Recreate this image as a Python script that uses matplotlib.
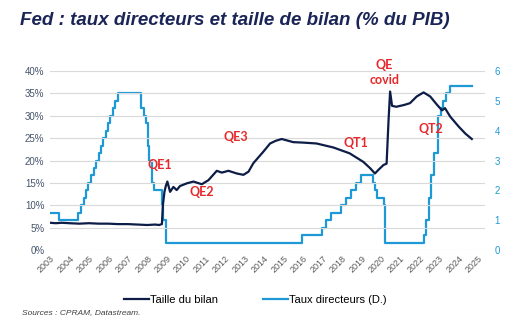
import numpy as np
import matplotlib.pyplot as plt
from matplotlib.ticker import FuncFormatter

# Taille du bilan de la Fed (% du PIB)
bilan_dates = [2003.0, 2003.3, 2003.6, 2004.0, 2004.5, 2005.0, 2005.5, 2006.0, 2006.5,
               2007.0, 2007.5, 2008.0, 2008.4, 2008.6, 2008.75, 2008.8, 2008.88, 2008.95,
               2009.03, 2009.17, 2009.34, 2009.51, 2009.68, 2010.03, 2010.37, 2010.8,
               2011.14, 2011.57, 2011.83, 2012.17, 2012.6, 2012.94, 2013.2, 2013.45,
               2013.97, 2014.31, 2014.6, 2014.91, 2015.5, 2016.0, 2016.7, 2017.57,
               2018.4, 2019.1, 2019.45, 2019.7, 2019.9, 2020.14, 2020.3, 2020.4,
               2020.48, 2020.58, 2020.8, 2021.2, 2021.5, 2021.85, 2022.2, 2022.54,
               2022.9, 2023.15, 2023.3, 2023.57, 2024.0, 2024.35, 2024.68]
bilan_vals = [6.1, 6.0, 6.1, 6.0, 5.9, 6.0, 5.9, 5.9, 5.8,
              5.8, 5.7, 5.6, 5.7, 5.6, 5.8, 10.0, 13.0, 14.3,
              15.3, 13.0, 14.1, 13.4, 14.3, 14.9, 15.3, 14.7,
              15.6, 17.7, 17.3, 17.7, 17.1, 16.8, 17.5, 19.4,
              22.0, 23.8, 24.4, 24.8, 24.1, 24.0, 23.8, 22.9,
              21.6, 19.7, 18.3, 17.1, 18.0, 19.0, 19.3, 29.0,
              35.4, 32.2, 32.0, 32.4, 32.8, 34.3, 35.2, 34.3,
              32.4, 31.2, 31.7, 29.8, 27.6, 26.0, 24.8]

# Taux directeur de la Fed (%), date de chaque changement
taux_dates = [2003.0, 2003.48, 2004.46, 2004.6, 2004.72, 2004.87, 2004.96, 2005.1, 2005.25,
              2005.37, 2005.5, 2005.6, 2005.72, 2005.87, 2005.96, 2006.08, 2006.24, 2006.36,
              2006.5, 2007.7, 2007.83, 2007.95, 2008.05, 2008.08, 2008.22, 2008.33, 2008.77,
              2008.83, 2008.96, 2015.96, 2016.96, 2017.2, 2017.46, 2017.96, 2018.22, 2018.46,
              2018.74, 2018.97, 2019.58, 2019.71, 2019.83, 2020.17, 2020.21, 2022.21, 2022.34,
              2022.46, 2022.57, 2022.72, 2022.96, 2023.09, 2023.22, 2023.37, 2023.57, 2024.7]
taux_vals = [1.25, 1.0, 1.25, 1.5, 1.75, 2.0, 2.25, 2.5, 2.75,
             3.0, 3.25, 3.5, 3.75, 4.0, 4.25, 4.5, 4.75, 5.0,
             5.25, 4.75, 4.5, 4.25, 3.5, 3.0, 2.25, 2.0, 1.5,
             1.0, 0.25, 0.5, 0.75, 1.0, 1.25, 1.5, 1.75, 2.0,
             2.25, 2.5, 2.25, 2.0, 1.75, 1.5, 0.25, 0.5, 1.0,
             1.75, 2.5, 3.25, 4.5, 4.75, 5.0, 5.25, 5.5, 5.5]

annees = list(range(2003, 2026))
annotations = [("QE1", 2008.65, 19.0), ("QE2", 2010.8, 13.0), ("QE3", 2012.56, 25.3),
               ("QT1", 2018.73, 23.8), ("QE\ncovid", 2020.2, 39.7), ("QT2", 2022.6, 27.0)]

navy = '#0d1d48'
bleu = '#1d9ad6'
rouge = '#e8282a'

plt.rcParams['font.family'] = ['Liberation Sans', 'DejaVu Sans']

fig = plt.figure(figsize=(5.16, 3.33), dpi=100)
ax = fig.add_axes([0.097, 0.249, 0.843, 0.538])
ax2 = ax.twinx()

ax.plot(bilan_dates, bilan_vals, color=navy, lw=1.6, zorder=3)
ax2.plot(taux_dates, taux_vals, color=bleu, lw=1.6, drawstyle='steps-post', zorder=2)

ax.set_zorder(ax2.get_zorder() + 1)
ax.patch.set_visible(False)

ax.set_xlim(2003, 2025.36)
ax.set_ylim(0, 40)
ax2.set_ylim(0, 6)
ax.set_yticks(np.arange(0, 41, 5))
ax.yaxis.set_major_formatter(FuncFormatter(lambda v, p: f"{v:.0f}%"))
ax2.set_yticks(range(0, 7))
ax.grid(axis='y', color='#d9d9d9', lw=0.8)
ax.set_axisbelow(True)

ax.set_xticks(annees)
ax.set_xticklabels([str(a) for a in annees], rotation=45, ha='right',
                   rotation_mode='anchor', fontsize=6.5, color='#595959')
ax.tick_params(axis='x', length=0, pad=3)
ax.tick_params(axis='y', length=0, labelsize=7, labelcolor='#44546a', pad=4)
ax2.tick_params(axis='y', length=0, labelsize=7, labelcolor=bleu, pad=7)

for a in (ax, ax2):
    for s in a.spines.values():
        s.set_visible(False)

for txt, x, y in annotations:
    ax.text(x, y, txt, color=rouge, fontsize=9, fontweight='bold', family='Lato',
            ha='center', va='center', linespacing=1.3, clip_on=False, zorder=5)

fig.text(0.039, 0.925, "Fed : taux directeurs et taille de bilan (% du PIB)",
         fontsize=13.5, fontweight='bold', style='italic', color='#1a2456')

h1, = ax.plot([], [], color=navy, lw=1.6)
h2, = ax.plot([], [], color=bleu, lw=1.6)
fig.legend([h1, h2], ["Taille du bilan", "Taux directeurs (D.)"], loc='center',
           bbox_to_anchor=(0.495, 0.099), ncol=2, frameon=False, fontsize=8,
           handlelength=2.3, handletextpad=0.1, columnspacing=4)

fig.text(0.043, 0.058, "Sources : CPRAM, Datastream.", fontsize=6, style='italic', color='#404040')

fig.savefig('out.png', dpi=100)
